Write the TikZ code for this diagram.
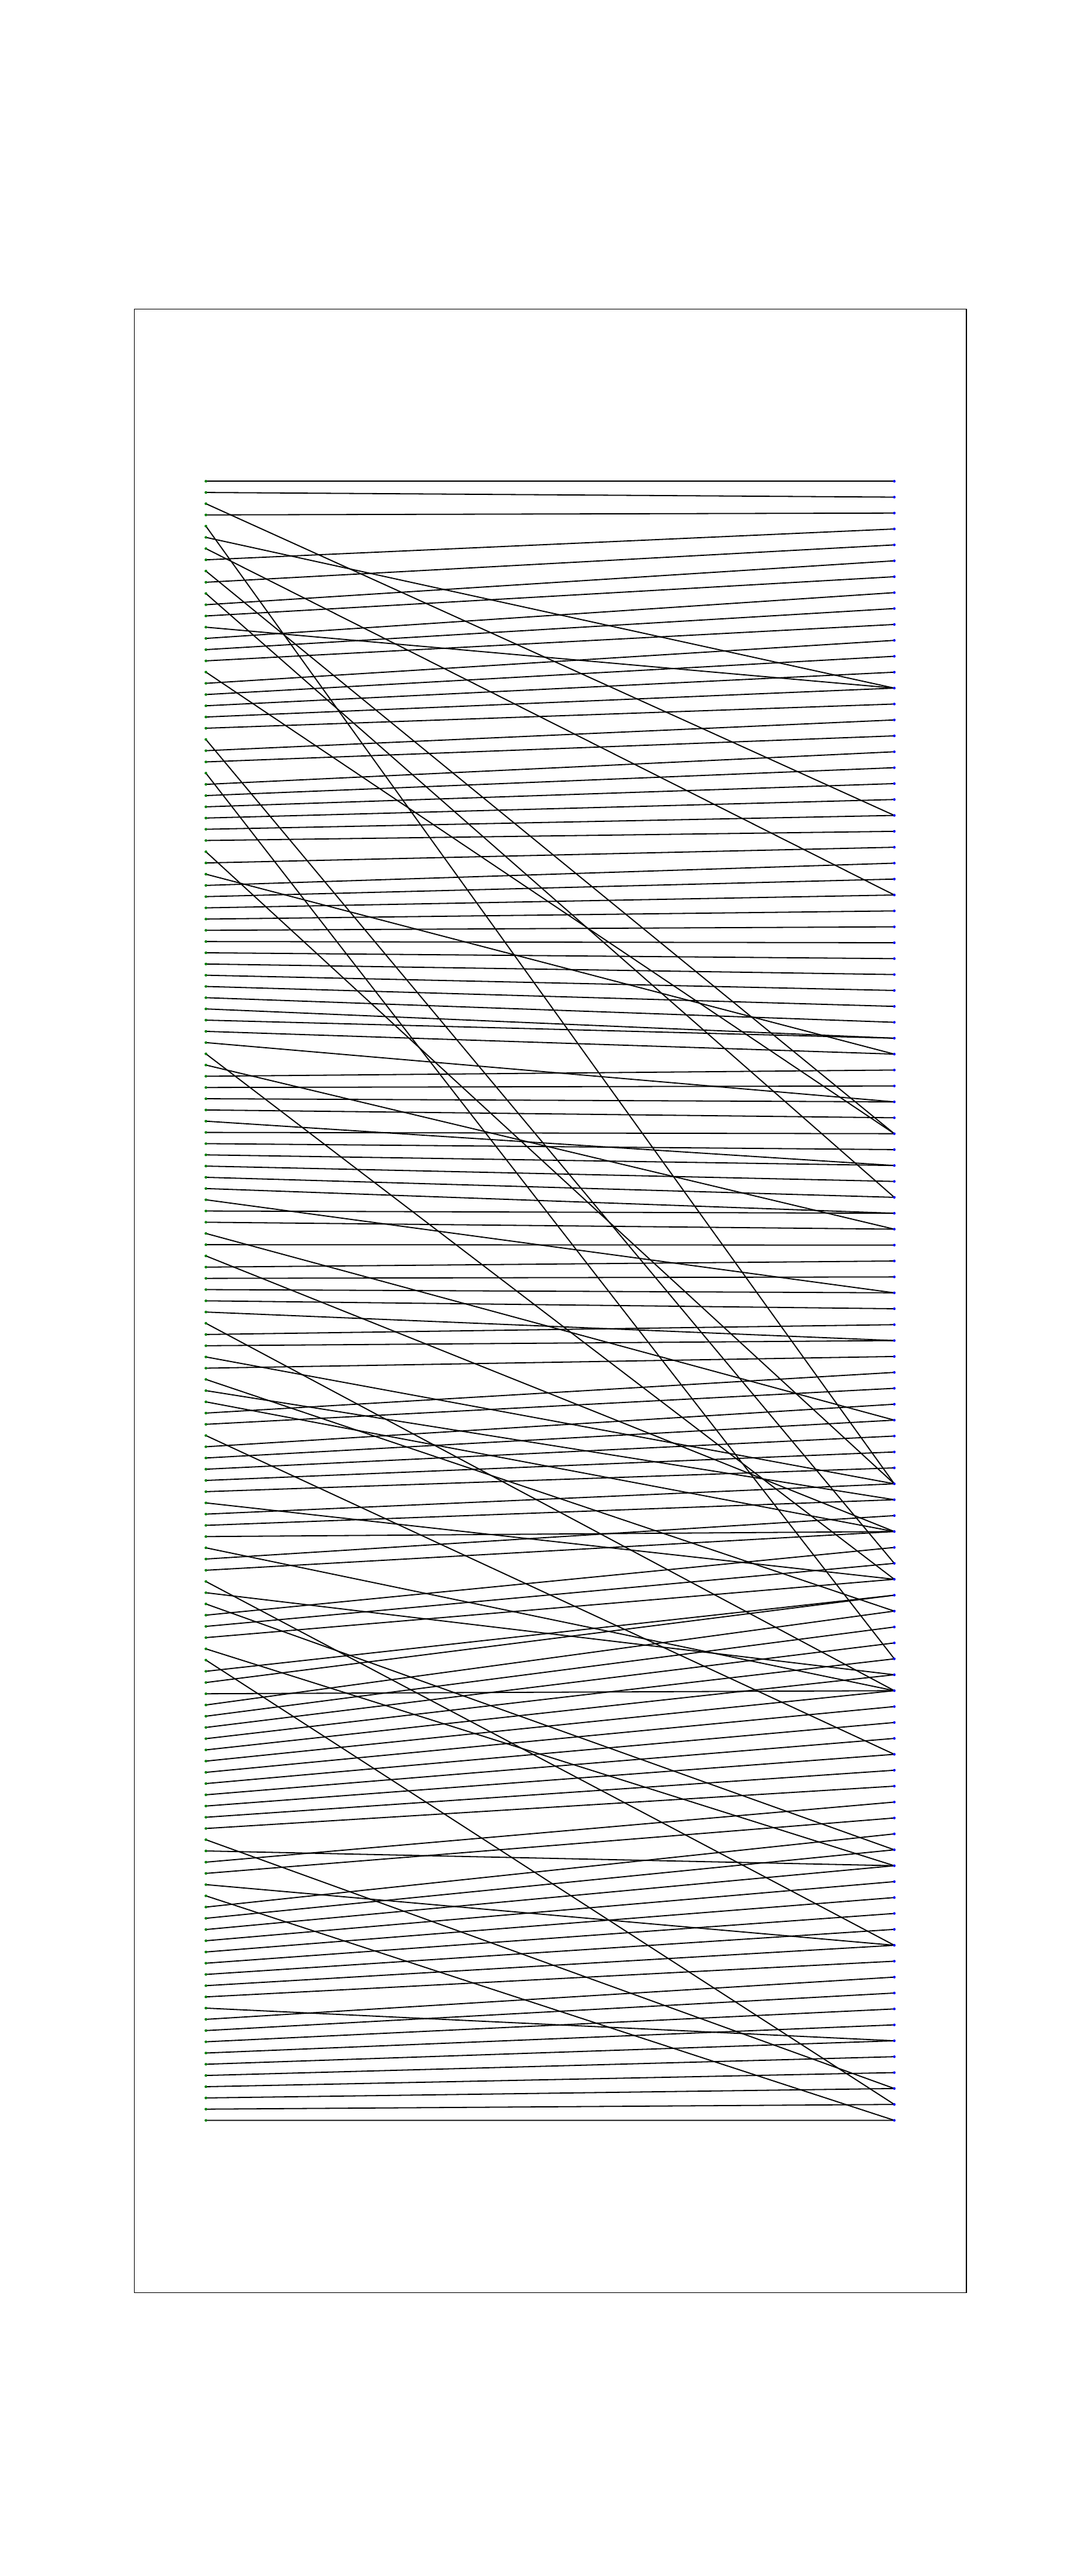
\documentclass[tikz,border=0pt]{standalone}
\definecolor{mgreen}{HTML}{008000}
\definecolor{mblue}{HTML}{0000FF}
\begin{document}
\begin{tikzpicture}[x=1cm,y=1cm,
  edge/.style={line width=0.6pt,black},
  frame/.style={line width=0.45pt,black},
  ldot/.style={fill=mgreen},
  rdot/.style={fill=mblue}]
\useasboundingbox (0,0) rectangle (20,-48);
\fill[white] (0,0) rectangle (20,-48);
\draw[frame] (2.50,-5.76) rectangle (18.00,-42.72);
% left column (147 points) and right column (104 points)
\foreach \i in {0,...,146} \coordinate (l\i) at (3.835,{-(8.967+0.20920*\i)});
\foreach \j in {0,...,103} \coordinate (r\j) at (16.657,{-(8.967+0.29653*\j)});
% connectors
\foreach \i/\j in {0/0,1/1,2/21,3/2,4/63,5/13,6/26,7/3,8/41,9/4,10/45,11/5,12/6,13/13,14/7,15/8,16/9,17/41,18/10,19/11,
20/12,21/13,22/14,23/68,24/15,25/16,26/74,27/17,28/18,29/19,30/20,31/21,32/22,33/63,34/23,35/36,36/24,37/25,38/26,39/27,
40/28,41/29,42/30,43/31,44/32,45/33,46/34,47/35,48/35,49/36,50/39,51/69,52/47,53/37,54/38,55/39,56/40,57/43,58/41,59/42,
60/43,61/44,62/45,63/46,64/51,65/46,66/47,67/59,68/48,69/66,70/49,71/50,72/51,73/52,74/54,75/76,76/53,77/54,78/63,79/55,
80/71,81/64,82/66,83/56,84/57,85/80,86/58,87/59,88/60,89/61,90/62,91/69,92/63,93/64,94/66,95/76,96/65,97/66,98/92,99/75,
100/86,101/67,102/68,103/69,104/87,105/102,106/70,107/70,108/76,109/71,110/72,111/73,112/74,113/75,114/76,115/77,116/78,117/79,118/80,119/81,
120/82,121/101,122/87,123/83,124/84,125/92,126/103,127/85,128/86,129/87,130/88,131/89,132/90,133/91,134/92,135/93,136/98,137/94,138/95,139/96,
140/97,141/98,142/99,143/100,144/101,145/102,146/103}
  \draw[edge] (l\i) -- (r\j);
% dots
\foreach \i in {0,...,146} \fill[ldot] (l\i) circle (0.025);
\foreach \j in {0,...,103} \fill[rdot] (r\j) circle (0.025);
\end{tikzpicture}
\end{document}
